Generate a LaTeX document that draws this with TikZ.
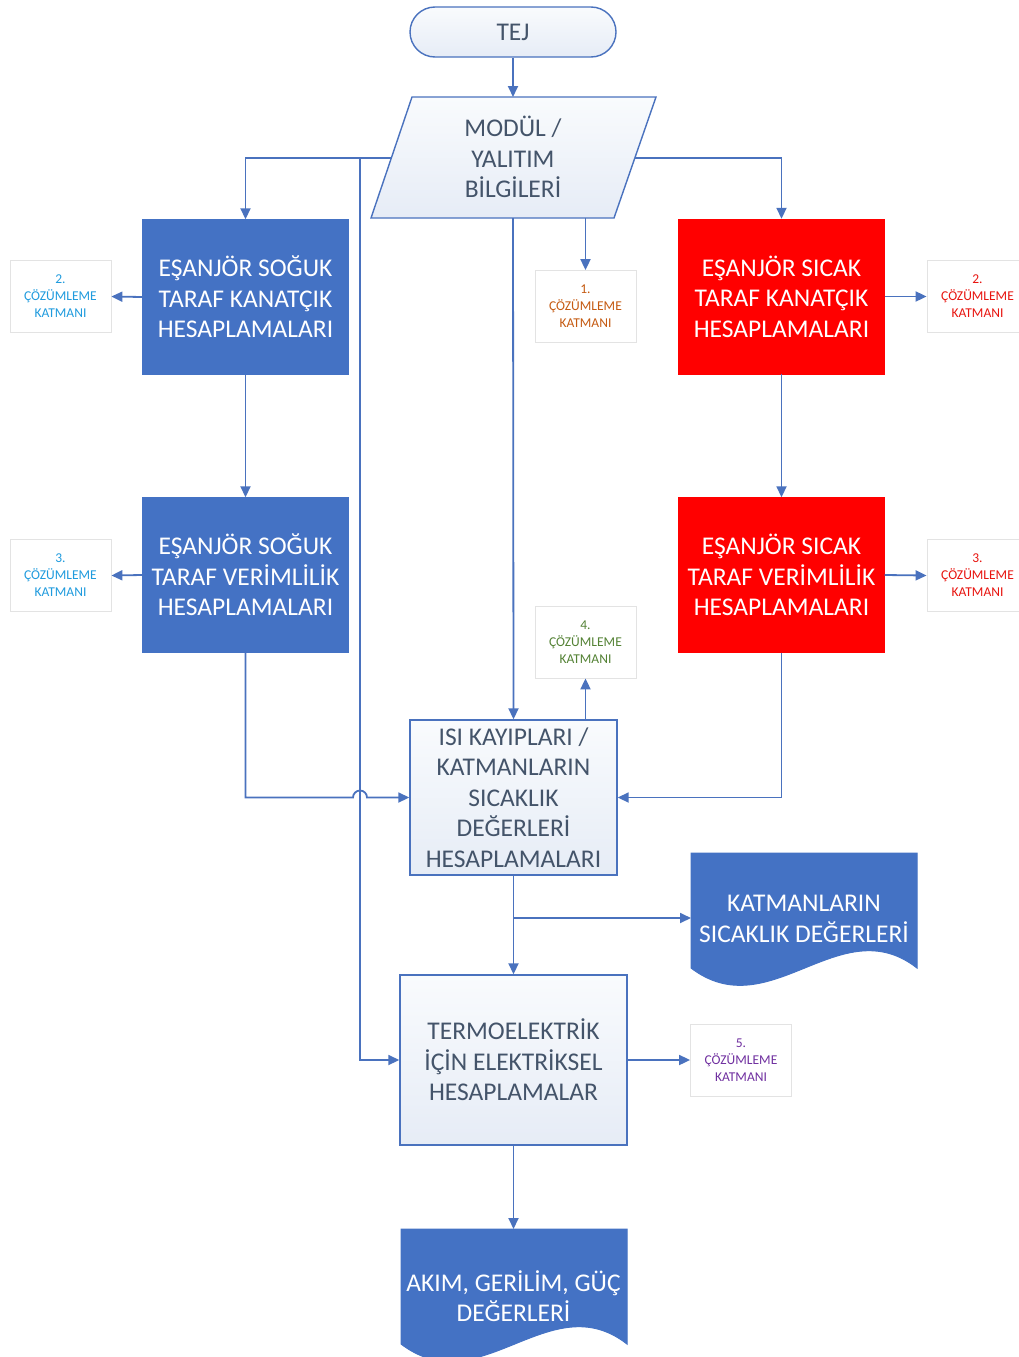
\documentclass[tikz,border=0pt]{standalone}
\usepackage{fontspec}
\setmainfont{Carlito}
\usetikzlibrary{arrows.meta}
\definecolor{bluebox}{HTML}{4472C4}
\definecolor{redbox}{HTML}{FF0000}
\definecolor{lineblue}{HTML}{4A72BE}
\definecolor{txtgray}{HTML}{44546A}
\definecolor{lighttop}{HTML}{F9FBFD}
\definecolor{lightend}{HTML}{E6ECF6}
\definecolor{smallborder}{HTML}{E3E3E3}
\definecolor{cyantxt}{HTML}{1F9BDE}
\definecolor{orangetxt}{HTML}{C55A11}
\definecolor{redtxt}{HTML}{E8140F}
\definecolor{greentxt}{HTML}{548235}
\definecolor{purpletxt}{HTML}{7030A0}
\begin{document}
\begin{tikzpicture}[x=1pt,y=-1pt,
 bigfont/.style={font=\fontsize{25.5}{30.5}\selectfont},
 smallfont/.style={font=\fontsize{13.5}{17}\selectfont},
 solidbox/.style={rectangle, inner sep=0pt, align=center, text=white, bigfont, minimum width=206pt, minimum height=155pt},
 bluestep/.style={solidbox, fill=bluebox, draw=bluebox},
 redstep/.style={solidbox, fill=redbox, draw=redbox},
 lightbox/.style={rectangle, inner sep=0pt, align=center, text=txtgray, bigfont, draw=lineblue, line width=1.4pt, top color=lighttop, bottom color=lightend},
 lightshape/.style={draw=lineblue, line width=1.4pt, top color=lighttop, bottom color=lightend},
 docshape/.style={fill=bluebox, draw=bluebox, line width=1pt},
 doctext/.style={align=center, text=white, bigfont, inner sep=0pt},
 layerbox/.style={rectangle, inner sep=0pt, align=center, smallfont, draw=smallborder, fill=white, line width=0.8pt, minimum width=101pt, minimum height=72pt},
 arr/.style={draw=lineblue, line width=1.8pt, -{Triangle[length=11pt,width=10pt]}},
]
\useasboundingbox (0,0) rectangle (1019,1357);
\clip (0,0) rectangle (1019,1357);
\fill[white] (0,0) rectangle (1019,1357);

% terminal
\node[lightbox, rounded corners=25pt, minimum width=206pt, minimum height=50pt] (tej) at (513,32) {TEJ};

% parallelogram
\path[lightshape] (371,218) -- (412,97) -- (656,97) -- (614,218) -- cycle;
\node[bigfont, text=txtgray, align=center, inner sep=0pt] (par) at (513,157) {MODÜL /\\YALITIM\\BİLGİLERİ};
\coordinate (parT) at (513,97);
\coordinate (parL) at (391,158);
\coordinate (parR) at (635,158);
\coordinate (parB) at (513,218);
\coordinate (parB2) at (585.5,218);
\coordinate (br) at (360,158);

% solid boxes
\node[bluestep] (cold1) at (245.5,297) {EŞANJÖR SOĞUK\\TARAF KANATÇIK\\HESAPLAMALARI};
\node[bluestep] (cold2) at (245.5,575) {EŞANJÖR SOĞUK\\TARAF VERİMLİLİK\\HESAPLAMALARI};
\node[redstep] (hot1) at (781.5,296.5) {EŞANJÖR SICAK\\TARAF KANATÇIK\\HESAPLAMALARI};
\node[redstep] (hot2) at (781.5,575) {EŞANJÖR SICAK\\TARAF VERİMLİLİK\\HESAPLAMALARI};

% layer boxes
\node[layerbox, text=cyantxt] (layer2L) at (60.5,296.5) {2.\\ÇÖZÜMLEME\\KATMANI};
\node[layerbox, text=cyantxt] (layer3L) at (60.5,575.5) {3.\\ÇÖZÜMLEME\\KATMANI};
\node[layerbox, text=redtxt] (layer2R) at (977.5,296.5) {2.\\ÇÖZÜMLEME\\KATMANI};
\node[layerbox, text=redtxt] (layer3R) at (977.5,575.5) {3.\\ÇÖZÜMLEME\\KATMANI};
\node[layerbox, text=orangetxt] (layer1) at (585.5,306.5) {1.\\ÇÖZÜMLEME\\KATMANI};
\node[layerbox, text=greentxt] (layer4) at (585.5,642) {4.\\ÇÖZÜMLEME\\KATMANI};
\node[layerbox, text=purpletxt] (layer5) at (741,1060) {5.\\ÇÖZÜMLEME\\KATMANI};

% process boxes
\node[lightbox, minimum width=207pt, minimum height=155pt] (isi) at (513.5,797.5) {ISI KAYIPLARI /\\KATMANLARIN\\SICAKLIK\\DEĞERLERİ\\HESAPLAMALARI};
\node[lightbox, minimum width=227pt, minimum height=170pt] (termo) at (513.5,1060) {TERMOELEKTRİK\\İÇİN ELEKTRİKSEL\\HESAPLAMALAR};

% documents
\path[docshape] (691,853) -- (917,853) -- (917,968) .. controls (840,908) and (770,1028) .. (691,968) -- cycle;
\node[doctext] (doc1) at (804,919) {KATMANLARIN\\SICAKLIK DEĞERLERİ};
\coordinate (doc1w) at (691,918);
\path[docshape] (401,1229) -- (627,1229) -- (627,1344) .. controls (550,1284) and (480,1404) .. (401,1344) -- cycle;
\node[doctext] (doc2) at (513.5,1296) {AKIM, GERİLİM, GÜÇ\\DEĞERLERİ};
\coordinate (doc2n) at (513.5,1229);
\coordinate (hopL) at (353,797.5);

% connectors
\draw[arr] (tej) -- (parT);
\draw[arr] (parL) -| (cold1.north);
\draw[arr] (br) |- (termo.west);
\draw[arr] (parR) -| (hot1.north);
\draw[arr] (parB) -- (isi.north);
\draw[arr] (parB2) -- (layer1.north);
\draw[arr] (cold1.west) -- (layer2L.east);
\draw[arr] (cold2.west) -- (layer3L.east);
\draw[arr] (hot1.east) -- (layer2R.west);
\draw[arr] (hot2.east) -- (layer3R.west);
\draw[arr] (cold1.south) -- (cold2.north);
\draw[arr] (hot1.south) -- (hot2.north);
\draw[arr] (cold2.south) -- (cold2.south |- isi.west) -- (hopL) arc[start angle=180, end angle=0, radius=7pt] -- (isi.west);
\draw[arr] (hot2.south) |- (isi.east);
\draw[arr] (isi.north -| layer4) -- (layer4.south);
\draw[arr] (isi.south) -- (termo.north);
\draw[arr] (isi.south |- doc1w) -- (doc1w);
\draw[arr] (termo.east) -- (layer5.west);
\draw[arr] (termo.south) -- (doc2n);
\end{tikzpicture}
\end{document}
